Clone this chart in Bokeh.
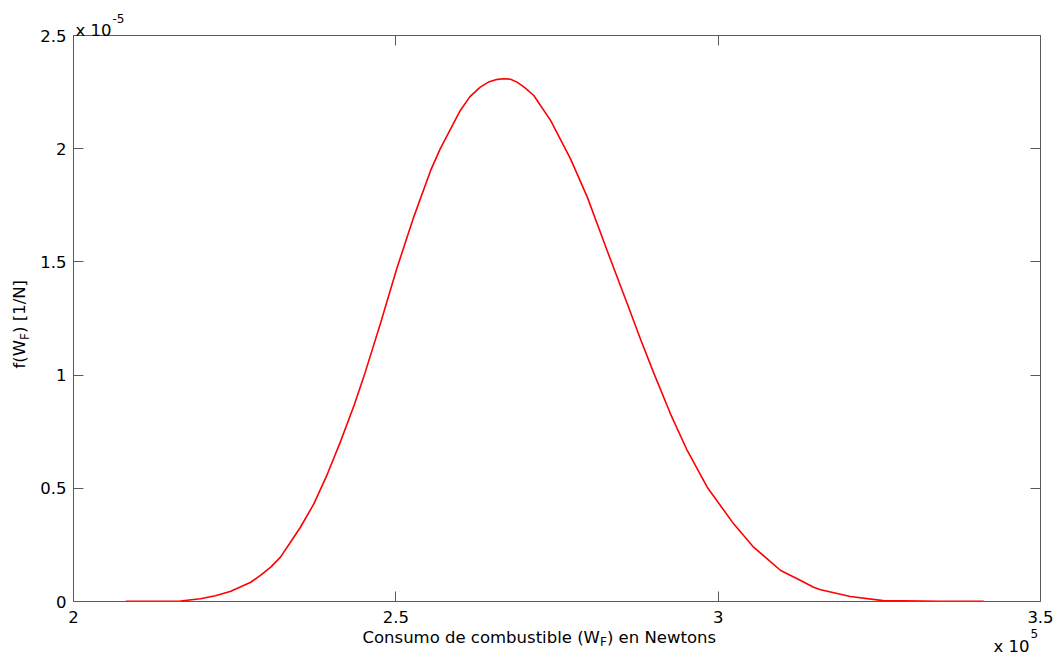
import math
from bokeh.plotting import figure
from bokeh.models import Range1d, FixedTicker, LinearAxis, Label, CustomJSTickFormatter
from bokeh.embed import file_html
from bokeh.resources import INLINE

# Fuel consumption W_F (x 10^5 N) and density f(W_F) (x 10^-5 1/N)
x_vals = [2.081, 2.166, 2.197, 2.220, 2.244, 2.275, 2.290, 2.306, 2.321, 2.335,
          2.352, 2.373, 2.394, 2.414, 2.435, 2.450, 2.476, 2.502, 2.528, 2.554,
          2.569, 2.600, 2.615, 2.631, 2.645, 2.655, 2.667, 2.678, 2.688, 2.700,
          2.714, 2.740, 2.771, 2.797, 2.828, 2.859, 2.880, 2.900, 2.926, 2.952,
          2.983, 3.024, 3.055, 3.097, 3.128, 3.148, 3.159, 3.205, 3.256, 3.345,
          3.412]
y_vals = [0.001, 0.002, 0.012, 0.025, 0.045, 0.085, 0.115, 0.152, 0.196, 0.255,
          0.328, 0.432, 0.564, 0.705, 0.865, 0.990, 1.227, 1.475, 1.700, 1.904,
          2.000, 2.169, 2.230, 2.272, 2.296, 2.305, 2.309, 2.307, 2.294, 2.270,
          2.235, 2.125, 1.955, 1.786, 1.548, 1.315, 1.155, 1.010, 0.829, 0.667,
          0.505, 0.343, 0.240, 0.137, 0.093, 0.063, 0.052, 0.022, 0.004, 0.001,
          0.001]
x_ticks = [2.0, 2.5, 3.0, 3.5]
y_ticks = [0.0, 0.5, 1.0, 1.5, 2.0, 2.5]

# page / axes box geometry (pixels)
W, H = 1057, 655
BL, BR, BT, BB = 73, 1040, 35, 601
X0, X1 = 2.0, 3.5
Y0, Y1 = 0.0, 2.5
sx = (X1 - X0) / (BR - BL)
sy = (Y1 - Y0) / (BB - BT)
XR0, XR1 = X0 - BL * sx, X0 + (W - BL) * sx
YR0, YR1 = Y0 - (H - BB) * sy, Y1 + BT * sy

def dx(px):
    return X0 + (px - BL) * sx

def dy(py):
    return Y0 + (BB - py) * sy

FONT = "DejaVu Sans"
FS = "16.5px"
SUB = "12px"
TXT = "#000000"
AXC = "#5a5a5a"

p = figure(width=W, height=H, x_range=Range1d(XR0, XR1), y_range=Range1d(YR0, YR1),
           output_backend="svg", toolbar_location=None,
           x_axis_location=None, y_axis_location=None,
           min_border=0, min_border_left=0, min_border_right=0,
           min_border_top=0, min_border_bottom=0)
p.background_fill_color = "white"
p.border_fill_color = "white"
p.outline_line_color = None
p.xgrid.visible = False
p.ygrid.visible = False

fmt = "return (Math.round(tick*10)/10).toString();"
blank = "return '';"

ax_b = LinearAxis(fixed_location=Y0, bounds=(X0, X1), ticker=FixedTicker(ticks=x_ticks),
                  formatter=CustomJSTickFormatter(code=fmt))
ax_t = LinearAxis(fixed_location=Y1, bounds=(X0, X1), ticker=FixedTicker(ticks=x_ticks),
                  formatter=CustomJSTickFormatter(code=blank))
ax_l = LinearAxis(fixed_location=X0, bounds=(Y0, Y1), ticker=FixedTicker(ticks=y_ticks),
                  formatter=CustomJSTickFormatter(code=fmt))
ax_r = LinearAxis(fixed_location=X1, bounds=(Y0, Y1), ticker=FixedTicker(ticks=y_ticks),
                  formatter=CustomJSTickFormatter(code=blank))
p.add_layout(ax_b, "below")
p.add_layout(ax_t, "above")
p.add_layout(ax_l, "left")
p.add_layout(ax_r, "right")
p.xgrid.visible = False
p.ygrid.visible = False

for ax in [ax_b, ax_t, ax_l, ax_r]:
    ax.axis_line_color = AXC
    ax.axis_line_width = 1
    ax.major_tick_line_color = AXC
    ax.major_tick_in = 10
    ax.major_tick_out = 0
    ax.minor_tick_line_color = None
    ax.major_label_text_font = FONT
    ax.major_label_text_font_size = FS
    ax.major_label_text_color = TXT
ax_b.major_label_standoff = 9
ax_l.major_label_standoff = 7
ax_t.major_label_standoff = 0
ax_r.major_label_standoff = 0

p.line(x_vals, y_vals, line_color="#ff0000", line_width=1.6)

def lab(px, py, text, size=FS, align="left", angle=0.0):
    p.add_layout(Label(x=dx(px), y=dy(py), text=text, text_font=FONT, text_font_size=size,
                       text_color=TXT, text_align=align, text_baseline="alphabetic", angle=angle))

# x axis label with subscript
XW = 599.4
lab(XW, 637, "Consumo de combustible (W", align="right")
lab(XW, 641, "F", size=SUB)
lab(XW + 7, 637, ") en Newtons")

# y axis label (rotated) with subscript
YW = 339.4
lab(19, YW, "f(W", align="right", angle=math.pi / 2)
lab(24, YW, "F", size=SUB, angle=math.pi / 2)
lab(19, YW - 7, ") [1/N]", angle=math.pi / 2)

# exponent multipliers
lab(75, 30, "x 10")
lab(112, 18, "-5", size=SUB)
lab(993, 646, "x 10")
lab(1030, 633, "5", size=SUB)

open("out.html", "w").write(file_html(p, INLINE))
